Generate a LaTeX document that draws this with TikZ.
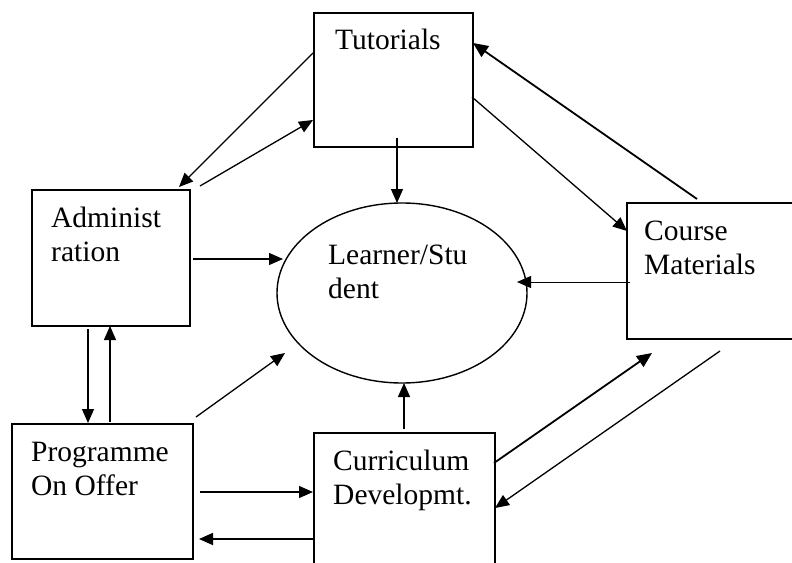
\documentclass[tikz,border=0pt]{standalone}
\usepackage{fontspec}
\setmainfont{Liberation Serif}
\usetikzlibrary{arrows.meta,shapes.geometric}
\begin{document}
\begin{tikzpicture}[x=1pt,y=-1pt,
  box/.style={draw,line width=1.5pt,rectangle,anchor=north west,inner sep=0pt},
  lbl/.style={anchor=base west,inner sep=0pt,font=\fontsize{29.5}{34.5}\selectfont},
  arr/.style={line width=1.3pt,-{Triangle[length=14pt,width=12pt]}},
  arrthick/.style={line width=1.8pt,-{Triangle[length=15pt,width=13pt]}}]
\clip (0,0) rectangle (792,562);
\fill[white] (0,0) rectangle (792,562);
% boxes
\node[box,minimum width=159pt,minimum height=134pt] (tut) at (313,12) {};
\node[box,minimum width=158pt,minimum height=136pt] (adm) at (31,189) {};
\node[box,minimum width=180pt,minimum height=136pt] (cm) at (626,202) {};
\node[box,minimum width=181pt,minimum height=135pt] (prog) at (11,423) {};
\node[box,minimum width=181pt,minimum height=150pt] (cur) at (313,432) {};
\node[draw,ellipse,line width=1.4pt,minimum width=250pt,minimum height=180pt,inner sep=0pt] (ell) at (402,293) {};
% labels
\node[lbl] (tuttxt) at (335,49) {Tutorials};
\node[lbl] (admtxt) at (51,227) {\begin{tabular}[t]{@{}l@{}}Administ\\ration\end{tabular}};
\node[lbl] (cmtxt) at (644,240) {\begin{tabular}[t]{@{}l@{}}Course\\Materials\end{tabular}};
\node[lbl] (progtxt) at (31,461) {\begin{tabular}[t]{@{}l@{}}Programme\\On Offer\end{tabular}};
\node[lbl] (curtxt) at (333,470) {\begin{tabular}[t]{@{}l@{}}Curriculum\\Developmt.\end{tabular}};
\node[lbl] (elltxt) at (328,264) {\begin{tabular}[t]{@{}l@{}}Learner/Stu\\dent\end{tabular}};
% connector end points
\coordinate (p1a) at (397,138);  \coordinate (p1b) at (397,203);
\coordinate (p2a) at (193,259);  \coordinate (p2b) at (283,259);
\coordinate (p3a) at (630,282);  \coordinate (p3b) at (517,282);
\coordinate (p4a) at (404,429);  \coordinate (p4b) at (404,383);
\coordinate (p5a) at (196,417);  \coordinate (p5b) at (285,353);
\coordinate (p6a) at (88,329);   \coordinate (p6b) at (88,423);
\coordinate (p7a) at (110,422);  \coordinate (p7b) at (110,326);
\coordinate (p8a) at (200,492);  \coordinate (p8b) at (313,492);
\coordinate (p9a) at (313,539);  \coordinate (p9b) at (199,539);
\coordinate (p10a) at (313,53);  \coordinate (p10b) at (179,187);
\coordinate (p11a) at (200,186); \coordinate (p11b) at (313,120);
\coordinate (p12a) at (472,97);  \coordinate (p12b) at (627,231);
\coordinate (p13a) at (697,199); \coordinate (p13b) at (473,43);
\coordinate (p14a) at (494,463); \coordinate (p14b) at (652,353);
\coordinate (p15a) at (720,351); \coordinate (p15b) at (495,508);
% connectors
\draw[arr] (p1a) -- (p1b);
\draw[arr] (p2a) -- (p2b);
\draw[arr,line width=1pt] (p3a) -- (p3b);
\draw[arr] (p4a) -- (p4b);
\draw[arr] (p5a) -- (p5b);
\draw[arr] (p6a) -- (p6b);
\draw[arr] (p7a) -- (p7b);
\draw[arr] (p8a) -- (p8b);
\draw[arr,line width=1.6pt] (p9a) -- (p9b);
\draw[arr] (p10a) -- (p10b);
\draw[arr] (p11a) -- (p11b);
\draw[arr] (p12a) -- (p12b);
\draw[arrthick] (p13a) -- (p13b);
\draw[arrthick] (p14a) -- (p14b);
\draw[arr] (p15a) -- (p15b);
\end{tikzpicture}
\end{document}
